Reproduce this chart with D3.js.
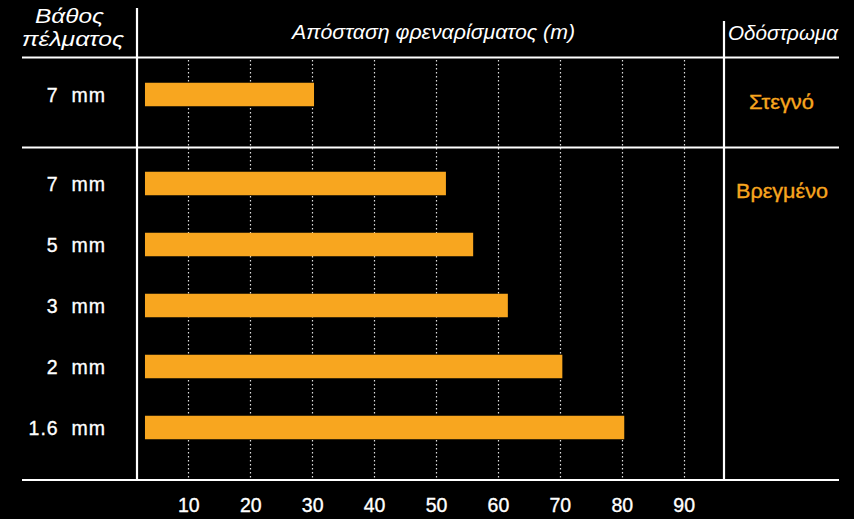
<!DOCTYPE html>
<html><head><meta charset="utf-8">
<script src="https://cdn.jsdelivr.net/npm/d3@7"></script>
<style>
html,body{margin:0;padding:0;background:#000;}
svg{display:block;font-family:"Liberation Sans","Helvetica Neue",Arial,sans-serif;}
</style></head>
<body>
<svg id="c" width="854" height="519"></svg>
<script>
// Data
const dryLabels = ["7  mm"];
const dryValues = [30.3];
const wetLabels = ["7  mm", "5  mm", "3  mm", "2  mm", "1.6  mm"];
const wetValues = [51.6, 56.0, 61.6, 70.4, 80.4];
const tickValues = [10, 20, 30, 40, 50, 60, 70, 80, 90];
const surfaceLabels = ["Στεγνό", "Βρεγμένο"];
const barOrigin = 3;

const orange = "#F8A61F";
const svg = d3.select("#c");
svg.append("rect").attr("width", 854).attr("height", 519).attr("fill", "#000");

const x = d3.scaleLinear().domain([0, 90]).range([126.4, 683.7]);

const rows = [
  ...dryLabels.map((l, i) => ({label: l, value: dryValues[i], group: 0})),
  ...wetLabels.map((l, i) => ({label: l, value: wetValues[i], group: 1}))
];
const yDry = d3.scaleBand().domain(dryLabels.map((d, i) => "d" + i)).range([60, 129]);
const yWet = d3.scaleBand().domain(wetLabels.map((d, i) => "w" + i)).range([153, 458]);
rows.forEach((r, i) => {
  if (r.group === 0) { r.yc = yDry("d" + i) + yDry.bandwidth() / 2; }
  else { const k = i - dryLabels.length; r.yc = yWet("w" + k) + yWet.bandwidth() / 2; }
});
const barH = 23.5;

// gridlines
const grid = svg.append("g");
grid.selectAll("line").data(tickValues).join("line")
  .attr("x1", d => Math.round(x(d)) + 0.5).attr("x2", d => Math.round(x(d)) + 0.5)
  .attr("y1", 60).attr("y2", 479)
  .attr("stroke", "#dddddd").attr("stroke-width", 1.2)
  .attr("stroke-dasharray", "1.5,2.5");

// bars
svg.append("g").selectAll("rect").data(rows).join("rect")
  .attr("x", x(barOrigin))
  .attr("y", d => d.yc - barH / 2)
  .attr("width", d => x(d.value) - x(barOrigin))
  .attr("height", barH)
  .attr("fill", orange);

// row labels
svg.append("g").selectAll("text").data(rows).join("text")
  .attr("x", 106).attr("y", d => d.yc + 7.5)
  .attr("text-anchor", "end")
  .attr("fill", "#fff").attr("font-size", 19.5)
  .attr("letter-spacing", 1)
  .attr("stroke", "#fff").attr("stroke-width", 0.35)
  .attr("xml:space", "preserve").style("white-space", "pre")
  .text(d => d.label);

// frame lines
const lc = "#fff", lw = 2.2;
const frame = svg.append("g").attr("stroke", lc).attr("stroke-width", lw);
frame.append("line").attr("x1", 22).attr("x2", 839).attr("y1", 57.5).attr("y2", 57.5);
frame.append("line").attr("x1", 22).attr("x2", 839).attr("y1", 147.5).attr("y2", 147.5);
frame.append("line").attr("x1", 22).attr("x2", 839).attr("y1", 480).attr("y2", 480);
frame.append("line").attr("x1", 137).attr("x2", 137).attr("y1", 8).attr("y2", 481);
frame.append("line").attr("x1", 724).attr("x2", 724).attr("y1", 21).attr("y2", 481);

// axis tick labels
const axis = d3.axisBottom(x).tickValues(tickValues).tickSize(0).tickPadding(0);
const ag = svg.append("g").attr("transform", "translate(0,480)").call(axis);
ag.select(".domain").remove();
ag.selectAll("text").attr("fill", "#fff").attr("font-size", 19.5)
  .attr("stroke", "#fff").attr("stroke-width", 0.35)
  .attr("dy", 0).attr("y", 32).attr("font-family", "Liberation Sans, Arial, sans-serif");

// headers
const hdr = svg.append("g").attr("fill", "#fff").attr("font-style", "italic").attr("font-size", 20);
const hdrs = [
  {t: "Βάθος", x: 69.5, y: 23, w: 69},
  {t: "πέλματος", x: 73, y: 45.5, w: 102},
  {t: "Απόσταση φρεναρίσματος (m)", x: 433.5, y: 38.5, w: 283},
  {t: "Οδόστρωμα", x: 783, y: 39.5, w: 110}
];
hdr.selectAll("text").data(hdrs).join("text")
  .attr("x", d => d.x).attr("y", d => d.y).attr("text-anchor", "middle")
  .attr("textLength", d => d.w).attr("lengthAdjust", "spacingAndGlyphs")
  .text(d => d.t);

// surface labels
const surfY = [rows[0].yc, rows[1].yc];
const surfW = [65, 92];
svg.append("g").selectAll("text").data(surfaceLabels).join("text")
  .attr("x", (d, i) => i ? 782 : 781.5).attr("y", (d, i) => surfY[i] + 14)
  .attr("text-anchor", "middle").attr("fill", orange)
  .attr("stroke", orange).attr("stroke-width", 0.35)
  .attr("font-size", 20)
  .attr("textLength", (d, i) => surfW[i]).attr("lengthAdjust", "spacingAndGlyphs")
  .text(d => d);
</script>
</body></html>
